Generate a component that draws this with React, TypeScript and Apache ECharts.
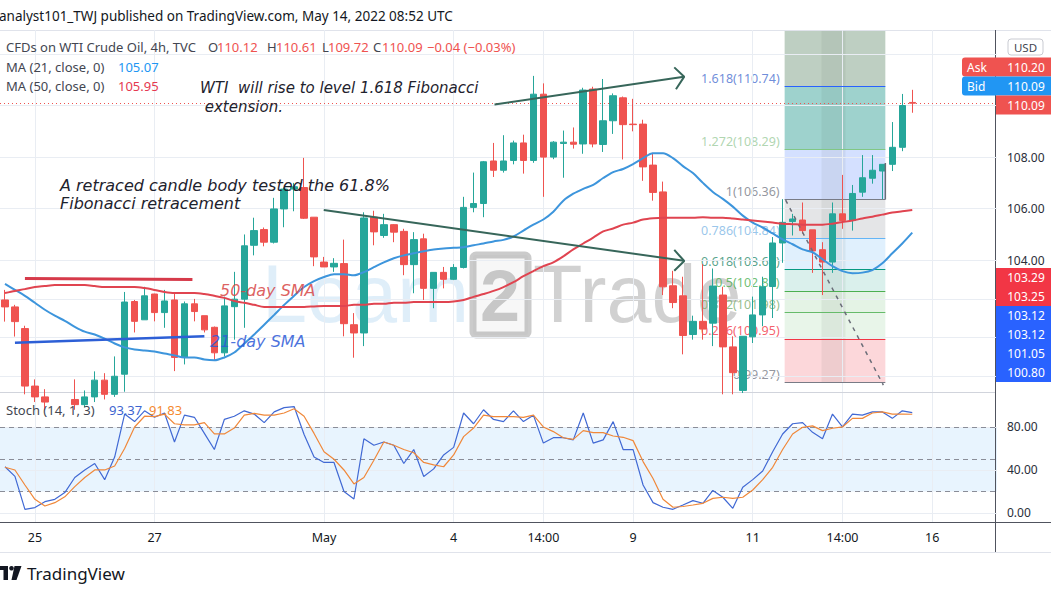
import React, { useEffect, useRef } from "react";
import * as echarts from "echarts";

// ---------- DATA ----------
// candles: [open, close, low, high] (4h WTI, index = bar number)
const candles: number[][] = [
  [102.46, 102.19, 101.62, 102.85], [102.19, 101.62, 101.04, 102.27], [101.35, 99.12, 98.8, 101.46], [99.12, 98.7, 98.5, 99.38],
  [98.7, 98.5, 98.2, 99.0], [98.5, 98.3, 98.0, 98.8], [98.3, 98.6, 98.1, 98.85], [98.6, 98.4, 98.2, 99.38],
  [98.4, 98.7, 98.3, 98.95], [98.7, 99.35, 98.5, 99.69], [99.35, 98.8, 98.6, 99.62], [98.8, 99.5, 98.7, 100.27],
  [99.58, 102.38, 98.9, 102.77], [102.4, 101.63, 101.2, 102.46], [101.69, 102.62, 101.69, 102.97], [102.69, 101.97, 101.63, 102.7],
  [101.97, 102.42, 101.38, 102.85], [102.46, 100.23, 99.7, 102.73], [100.23, 102.31, 99.96, 102.4], [102.31, 102.01, 101.63, 102.5],
  [101.85, 101.3, 101.2, 101.85], [101.4, 100.41, 100.1, 101.43], [100.41, 102.23, 100.27, 102.59], [102.2, 102.49, 100.92, 103.55],
  [102.49, 104.56, 101.38, 105.0], [104.58, 105.15, 104.19, 105.65], [105.19, 104.7, 104.54, 105.27], [104.7, 105.99, 104.65, 106.42],
  [105.99, 106.76, 105.28, 106.82], [106.76, 106.85, 105.9, 107.0], [106.82, 105.63, 105.6, 107.97], [105.67, 104.13, 103.77, 105.67],
  [103.93, 103.74, 103.74, 104.13], [103.74, 103.88, 103.55, 104.08], [103.87, 101.54, 101.05, 104.8], [101.5, 101.18, 100.22, 101.95],
  [101.18, 105.64, 100.67, 105.86], [105.67, 105.1, 104.58, 105.92], [104.96, 105.38, 104.87, 105.8], [105.38, 105.09, 104.7, 105.4],
  [105.12, 103.83, 103.42, 105.22], [103.83, 104.8, 102.72, 105.09], [104.83, 102.91, 102.46, 105.03], [102.91, 103.53, 102.14, 103.53],
  [103.53, 103.26, 102.91, 103.74], [103.26, 103.72, 103.23, 103.85], [103.72, 106.05, 103.68, 106.46], [106.05, 106.2, 105.86, 107.4],
  [106.2, 107.82, 105.67, 107.85], [107.85, 107.49, 107.23, 108.55], [107.49, 107.85, 107.4, 108.85], [107.87, 108.55, 107.72, 108.64],
  [108.55, 107.87, 107.36, 108.87], [107.87, 110.44, 107.78, 111.15], [110.44, 108.0, 106.46, 110.86], [108.0, 108.58, 107.92, 108.62],
  [108.53, 108.58, 107.2, 109.03], [108.58, 108.5, 108.33, 109.15], [108.51, 110.6, 108.13, 110.69], [110.64, 108.51, 108.38, 110.73],
  [108.49, 109.41, 108.2, 111.03], [109.41, 110.38, 108.9, 110.47], [110.3, 109.26, 107.91, 110.35], [109.28, 109.26, 109.0, 110.26],
  [109.28, 107.62, 107.08, 109.45], [107.69, 106.63, 106.31, 108.17], [106.65, 102.97, 102.65, 107.05], [103.01, 102.36, 102.14, 103.59],
  [102.62, 101.08, 100.35, 103.36], [101.12, 101.63, 100.92, 101.85], [101.63, 101.33, 100.92, 103.85], [101.56, 103.0, 100.67, 103.68],
  [102.65, 100.64, 98.8, 102.97], [100.64, 99.64, 98.8, 101.05], [98.95, 101.05, 98.85, 101.05], [101.03, 101.88, 100.79, 102.59],
  [101.88, 102.97, 101.44, 103.36], [102.98, 104.67, 101.76, 104.9], [104.67, 105.47, 103.9, 106.37], [105.5, 105.6, 104.96, 105.8],
  [105.56, 105.15, 105.03, 106.24], [105.18, 104.36, 103.51, 105.18], [104.41, 103.93, 102.65, 104.7], [103.93, 105.8, 103.51, 106.24],
  [105.8, 105.54, 105.22, 107.31], [105.54, 106.59, 105.15, 106.92], [106.64, 107.2, 106.46, 108.08], [107.18, 107.49, 106.97, 108.08],
  [107.46, 107.72, 106.37, 107.72], [107.72, 108.38, 107.46, 109.36], [108.38, 110.0, 108.23, 110.45], [110.12, 110.09, 109.72, 110.61],
];

const ma21 = [
  103.08, 102.85, 102.62, 102.35, 102.08, 101.85, 101.65, 101.42, 101.23, 101.12,
  100.96, 100.77, 100.62, 100.54, 100.5, 100.46, 100.38, 100.31, 100.23, 100.23,
  100.15, 100.12, 100.23, 100.42, 100.77, 101.12, 101.5, 101.88, 102.27, 102.62,
  102.96, 103.19, 103.35, 103.46, 103.46, 103.42, 103.54, 103.73, 103.92, 104.08,
  104.19, 104.27, 104.35, 104.42, 104.46, 104.48, 104.5, 104.58, 104.65, 104.73,
  104.79, 104.92, 105.15, 105.38, 105.58, 105.88, 106.31, 106.58, 106.77, 106.92,
  107.19, 107.42, 107.54, 107.73, 107.96, 108.15, 108.15, 107.96, 107.65, 107.38,
  107.0, 106.65, 106.38, 106.08, 105.73, 105.46, 105.27, 105.04, 104.81, 104.62,
  104.42, 104.31, 104.04, 103.77, 103.58, 103.5, 103.52, 103.62, 103.88, 104.27,
  104.65, 105.07,
];

const ma50 = [
  102.73, 102.81, 102.88, 102.96, 103.0, 103.04, 103.04, 103.04, 103.04, 103.0,
  102.96, 102.96, 102.96, 102.96, 102.92, 102.85, 102.77, 102.73, 102.73, 102.73,
  102.69, 102.62, 102.54, 102.42, 102.35, 102.27, 102.19, 102.19, 102.19, 102.19,
  102.19, 102.21, 102.23, 102.23, 102.23, 102.27, 102.27, 102.31, 102.31, 102.35,
  102.35, 102.38, 102.38, 102.38, 102.38, 102.4, 102.46, 102.58, 102.69, 102.81,
  102.96, 103.15, 103.38, 103.58, 103.77, 103.92, 104.15, 104.42, 104.65, 104.88,
  105.12, 105.23, 105.38, 105.46, 105.58, 105.63, 105.65, 105.65, 105.65, 105.65,
  105.67, 105.65, 105.65, 105.62, 105.58, 105.54, 105.5, 105.46, 105.42, 105.4,
  105.38, 105.38, 105.38, 105.42, 105.48, 105.54, 105.62, 105.69, 105.77, 105.85,
  105.9, 105.95,
];

const stochK = [
  43, 34, 3.4, 5, 10.5, 12.7, 19, 33, 40, 46,
  31, 52, 92, 85, 95, 89, 93, 66, 91, 89,
  74, 59, 87, 90, 95, 92, 84, 94, 98, 99,
  73, 52, 47, 47, 20, 13, 69, 63, 66, 63,
  46, 59, 34, 41, 54, 61, 93, 83, 96, 87,
  85, 95, 85, 91, 65, 70, 70, 68, 93, 65,
  68, 85, 59, 59, 26, 9.6, 5.3, 3.4, 7.4, 11.5,
  9, 21, 14.6, 4.3, 24, 31, 39, 57, 73.5, 83,
  84, 75, 69, 92, 80, 92, 91, 94, 94, 88,
  95, 93.37,
];

const stochD = [
  42.5, 40, 26, 12.7, 6.5, 9.6, 15, 24.5, 33, 40,
  40, 43.7, 60, 80, 90, 89.6, 92, 83, 82, 82,
  84, 73.5, 73.5, 79, 91, 92.7, 91, 91, 93, 97,
  90, 74, 57, 50, 40, 27, 33, 49, 66, 63,
  59, 56, 47, 44.7, 43, 54, 71, 79, 91, 89.6,
  89.6, 89.6, 89, 91, 80, 75.7, 70, 68.5, 76.6, 74.7,
  74.7, 71.6, 70.4, 67.3, 47.8, 32, 12.7, 5.3, 6, 7.4,
  9, 13.6, 14.6, 13.6, 14.6, 21.4, 31, 42.5, 59, 73.5,
  79.7, 81, 76.6, 78.8, 80, 88, 88, 93, 94, 92,
  92, 91.83,
];

const slotCount = 100;
const xTickIndex = [3, 15, 32, 45, 54, 63, 75, 84, 93];
const xTickText = ["25", "27", "May", "4", "14:00", "9", "11", "14:00", "16"];
const priceGridLines = [99.5, 101, 102.5, 104, 106, 108, 110, 112];
const priceAxisLabels = [104, 106, 108];
const stochAxisLabels = [0, 40, 80];
const stochGridLines = [0, 40, 80];
const stochDashed = [20, 50, 80];
const stochBand = [20, 80];

const fibRatios = ["0", "0.236", "0.382", "0.5", "0.618", "0.786", "1", "1.272", "1.618"];
const fibPrices = [99.27, 100.95, 101.98, 102.81, 103.65, 104.84, 106.36, 108.29, 110.74];
const fibStart = 78.2;
const fibEnd = 88.3;

// user drawings, [bar, price]
const redLine = [[2.0, 103.29], [18.8, 103.25]];
const blueLine = [[1.0, 100.8], [20.0, 101.05]];
const arrowUp = [[49.1, 110.04], [68.1, 111.12]];
const arrowUpHead = [[67.13, 111.48], [68.13, 111.12], [67.3, 110.63]];
const arrowDown = [[31.97, 105.95], [68.1, 103.98]];
const arrowDownHead = [[67.13, 104.4], [68.13, 103.97], [67.13, 103.59]];
const fibTrend = [[78.3, 106.33], [88.1, 99.16]];
const fibConnector = [[88.3, 106.36], [88.3, 107.77]];

const lastPrice = 110.09;
const askBid = [["Ask", "110.20"], ["Bid", "110.09"]];
const redTags = ["103.29", "103.25"];
const blueTags = ["103.12", "103.12", "101.05", "100.80"];

// ---------- STYLE ----------
const PRICE_MIN = 98.89;
const PRICE_MAX = 112.93;
const ST_MIN = -8.4;
const ST_MAX = 111.6;
const UP = "#26a69a";
const DOWN = "#ef5350";
const GRID = "#e9edf3";
const SANS = '"Noto Sans", "Open Sans", Arial, sans-serif';
const ITAL = '"DejaVu Sans", sans-serif';

const fibLineColors = ["#787b86", "#f23645", "#66bb6a", "#4caf50", "#089981", "#64b5f6", "#787b86", "#81c784", "#2962ff"];
const fibLabelColors = ["#787b86", "#f23645", "#7cae6e", "#4caf50", "#2e8b6e", "#7fb8e6", "#787b86", "#9ccb9c", "#4a6fd0"];
const fibBandColors = [
  "rgba(242,54,69,0.2)", "rgba(129,199,132,0.18)", "rgba(76,175,80,0.15)", "rgba(8,153,129,0.15)",
  "rgba(100,181,246,0.2)", "rgba(120,123,134,0.2)", "rgba(41,98,255,0.2)", "rgba(0,137,123,0.38)",
];

function txt(text: string, x: number, y: number, fill: string, font: string, align = "left", z = 60) {
  return {
    type: "text", z, silent: true,
    style: { text, x, y, fill, font, align, textAlign: align, verticalAlign: "middle", textVerticalAlign: "middle" },
  };
}

function tag(y: number, text: string, color: string) {
  return [
    { type: "rect", z: 70, silent: true, shape: { x: 996, y: y - 9.5, width: 55, height: 19 }, style: { fill: color } },
    txt(text, 1026, y, "#ffffff", `12px ${SANS}`, "center", 71),
  ];
}

function buildOption() {
  const cats = Array.from({ length: slotCount }, (_, i) => String(i));

  const fibAreas: any[] = [];
  for (let k = 0; k < fibPrices.length - 1; k++) {
    fibAreas.push([
      { xAxis: fibStart, yAxis: fibPrices[k], itemStyle: { color: fibBandColors[k] } },
      { xAxis: fibEnd, yAxis: fibPrices[k + 1] },
    ]);
  }
  fibAreas.push([
    { xAxis: fibStart, yAxis: fibPrices[fibPrices.length - 1], itemStyle: { color: "rgba(100,140,110,0.42)" } },
    { xAxis: fibEnd, yAxis: PRICE_MAX },
  ]);
  fibAreas.push([
    { xAxis: 81.9, yAxis: fibPrices[0], itemStyle: { color: "rgba(60,70,60,0.07)" } },
    { xAxis: 84.3, yAxis: PRICE_MAX },
  ]);

  const fibLines = fibPrices.map((p, k) => [
    { coord: [fibStart, p], lineStyle: { color: fibLineColors[k], width: 1, type: "solid" } },
    { coord: [fibEnd, p] },
  ]);

  const drawLine = (data: number[][], color: string, width: number, type: any = "solid") => ({
    type: "line", xAxisIndex: 1, yAxisIndex: 0, data, symbol: "none", silent: true, z: 6,
    lineStyle: { color, width, type }, animation: false,
  });

  const graphics: any[] = [];
  // header
  graphics.push(txt("analyst101_TWJ published on TradingView.com, May 14, 2022 08:52 UTC", -1, 16, "#131722", `13.5px ${SANS}`));
  graphics.push({ type: "line", z: 5, silent: true, shape: { x1: 0, y1: 30.5, x2: 1051, y2: 30.5 }, style: { stroke: "#e0e3eb", lineWidth: 1 } });
  graphics.push(txt("CFDs on WTI Crude Oil, 4h, TVC", 6, 47, "#434651", `13px ${SANS}`));
  const ohlc: [string, number, string][] = [["O", 208, "110.12"], ["H", 267, "110.61"], ["L", 322, "109.72"], ["C", 373, "110.09"]];
  ohlc.forEach(([l, x, v]) => {
    graphics.push(txt(l, x, 47, "#434651", `13px ${SANS}`));
    graphics.push(txt(v, x + (l === "L" ? 6 : 9), 47, "#ef5350", `13px ${SANS}`));
  });
  graphics.push(txt("\u22120.04 (\u22120.03%)", 427, 47, "#ef5350", `13px ${SANS}`));
  graphics.push(txt("MA (21, close, 0)", 6, 67, "#434651", `13px ${SANS}`));
  graphics.push(txt(ma21[ma21.length - 1].toFixed(2), 118, 67, "#2196f3", `13px ${SANS}`));
  graphics.push(txt("MA (50, close, 0)", 6, 86, "#434651", `13px ${SANS}`));
  graphics.push(txt(ma50[ma50.length - 1].toFixed(2), 118, 86, "#e53950", `13px ${SANS}`));
  graphics.push(txt("Stoch (14, 1, 3)", 6, 410, "#434651", `13px ${SANS}`));
  graphics.push(txt(stochK[stochK.length - 1].toFixed(2), 109, 410, "#3d64d0", `13px ${SANS}`));
  graphics.push(txt(stochD[stochD.length - 1].toFixed(2), 149, 410, "#f5892f", `13px ${SANS}`));

  // annotations
  const af = `italic 15px ${ITAL}`;
  const af2 = `italic 16px ${ITAL}`;
  graphics.push(txt("WTI  will rise to level 1.618 Fibonacci", 200, 88, "#1e222d", af));
  graphics.push(txt(" extension.", 200, 107, "#1e222d", af));
  graphics.push(txt("A retraced candle body tested the 61.8%", 60, 185, "#1e222d", af2));
  graphics.push(txt("Fibonacci retracement", 60, 203, "#1e222d", af2));
  graphics.push(txt("50-day SMA", 220, 290, "rgba(215,70,70,0.85)", `italic 16px ${ITAL}`, "left", 8));
  graphics.push(txt("21-day SMA", 210, 341, "rgba(45,90,215,0.85)", `italic 16px ${ITAL}`, "left", 8));

  // watermark
  graphics.push({ type: "text", z: 0, silent: true, style: { text: "Learn", x: 262, y: 294, fill: "rgba(150,200,235,0.3)", font: `81px "Liberation Sans", Arial`, verticalAlign: "middle", textVerticalAlign: "middle" } });
  graphics.push({ type: "rect", z: 0, silent: true, shape: { x: 473, y: 255, width: 55, height: 80, r: 3 }, style: { fill: "rgba(200,200,200,0.15)", stroke: "rgba(140,140,140,0.45)", lineWidth: 7 } });
  graphics.push({ type: "text", z: 0, silent: true, style: { text: "2", x: 500, y: 296, fill: "rgba(140,140,140,0.45)", font: `bold 72px "Liberation Sans", Arial`, align: "center", textAlign: "center", verticalAlign: "middle", textVerticalAlign: "middle" } });
  graphics.push({ type: "text", z: 0, silent: true, style: { text: "Trade", x: 533, y: 294, fill: "rgba(140,140,140,0.4)", font: `81px "Liberation Sans", Arial`, verticalAlign: "middle", textVerticalAlign: "middle" } });

  // frame lines
  graphics.push({ type: "line", z: 5, silent: true, shape: { x1: 0, y1: 392.5, x2: 996, y2: 392.5 }, style: { stroke: "#d1d4dc", lineWidth: 1 } });
  graphics.push({ type: "line", z: 5, silent: true, shape: { x1: 0, y1: 522.5, x2: 1051, y2: 522.5 }, style: { stroke: "#50535e", lineWidth: 1 } });
  graphics.push({ type: "line", z: 5, silent: true, shape: { x1: 0, y1: 552.5, x2: 1051, y2: 552.5 }, style: { stroke: "#e0e3eb", lineWidth: 1 } });
  graphics.push({ type: "line", z: 5, silent: true, shape: { x1: 995.5, y1: 30, x2: 995.5, y2: 552 }, style: { stroke: "#50535e", lineWidth: 1 } });

  // right-side tags
  graphics.push({ type: "rect", z: 70, silent: true, shape: { x: 1008, y: 39, width: 35, height: 16, r: 3 }, style: { fill: "#ffffff", stroke: "#c9cbd2", lineWidth: 1 } });
  graphics.push(txt("USD", 1025.5, 47, "#434651", `11.5px ${SANS}`, "center", 71));
  askBid.forEach(([name, val], k) => {
    const y = 67 + k * 19;
    const col = k === 0 ? "#ef5350" : "#2196f3";
    graphics.push({ type: "rect", z: 70, silent: true, shape: { x: 962, y: y - 9.5, width: 89, height: 19, r: [3, 0, 0, 3] }, style: { fill: col } });
    graphics.push(txt(name, 967, y, "#ffffff", `12px ${SANS}`, "left", 71));
    graphics.push(txt(val, 1026, y, "#ffffff", `12px ${SANS}`, "center", 71));
  });
  graphics.push(...tag(105, lastPrice.toFixed(2), "#ef5350"));
  redTags.forEach((v, k) => graphics.push(...tag(277.5 + k * 19, v, "#f23645")));
  blueTags.forEach((v, k) => graphics.push(...tag(315.5 + k * 19, v, "#2962ff")));

  // TradingView logo
  graphics.push({ type: "polygon", z: 60, silent: true, shape: { points: [[0, 566], [8, 566], [8, 580], [3.5, 580], [3.5, 570], [0, 570]] }, style: { fill: "#131722" } });
  graphics.push({ type: "circle", z: 60, silent: true, shape: { cx: 11.5, cy: 568.3, r: 2.3 }, style: { fill: "#131722" } });
  graphics.push({ type: "polygon", z: 60, silent: true, shape: { points: [[14.5, 566], [21.5, 566], [16.5, 580], [11.5, 580]] }, style: { fill: "#131722" } });
  graphics.push(txt("TradingView", 27, 573, "#131722", `17px ${SANS}`));

  const vLines = xTickIndex.map((i) => ({ xAxis: i }));

  return {
    animation: false,
    backgroundColor: "#ffffff",
    textStyle: { fontFamily: SANS },
    grid: [
      { left: -3, width: 1000, top: 30, height: 362 },
      { left: -3, width: 1000, top: 393, height: 129 },
    ],
    xAxis: [
      { type: "category", gridIndex: 0, data: cats, show: false, boundaryGap: true },
      { type: "value", gridIndex: 0, min: -0.5, max: slotCount - 0.5, show: false },
      {
        type: "category", gridIndex: 1, data: cats, boundaryGap: true,
        axisLine: { show: false }, axisTick: { show: false }, splitLine: { show: false },
        axisLabel: {
          interval: (index: number) => xTickIndex.includes(index),
          formatter: (_v: string, index: number) => {
            const k = xTickIndex.indexOf(index);
            return k >= 0 ? xTickText[k] : "";
          },
          color: "#131722", fontSize: 12.5, margin: 9,
        },
      },
      { type: "value", gridIndex: 1, min: -0.5, max: slotCount - 0.5, show: false },
    ],
    yAxis: [
      {
        type: "value", gridIndex: 0, min: PRICE_MIN, max: PRICE_MAX, position: "right", scale: true,
        axisLine: { show: false }, axisTick: { show: false }, splitLine: { show: false },
        axisLabel: { customValues: priceAxisLabels, formatter: (v: number) => v.toFixed(2), color: "#2a2e39", fontSize: 12, margin: 10 },
      },
      {
        type: "value", gridIndex: 1, min: ST_MIN, max: ST_MAX, position: "right",
        axisLine: { show: false }, axisTick: { show: false }, splitLine: { show: false },
        axisLabel: { customValues: stochAxisLabels, formatter: (v: number) => v.toFixed(2), color: "#2a2e39", fontSize: 12, margin: 10 },
      },
    ],
    graphic: { elements: graphics },
    series: [
      // price grid
      {
        type: "line", xAxisIndex: 1, yAxisIndex: 0, data: [], z: 0, silent: true,
        markLine: {
          silent: true, symbol: ["none", "none"], label: { show: false },
          lineStyle: { color: GRID, width: 1, type: "solid" },
          data: [...priceGridLines.map((p) => ({ yAxis: p })), ...vLines],
        },
      },
      // fib
      {
        type: "line", xAxisIndex: 1, yAxisIndex: 0, data: [], z: 1, silent: true,
        markArea: { silent: true, data: fibAreas },
        markLine: { silent: true, symbol: ["none", "none"], label: { show: false }, data: fibLines },
      },
      {
        type: "scatter", xAxisIndex: 1, yAxisIndex: 0, z: 3, silent: true, symbolSize: 2,
        itemStyle: { color: "rgba(0,0,0,0)" },
        label: { show: true, position: "left", distance: 4, offset: [0, -8], fontSize: 12.5, fontFamily: SANS },
        data: fibPrices.map((p, k) => ({
          value: [fibStart, p],
          label: {
            show: true,
            formatter: `${fibRatios[k]}(${p.toFixed(2)})`,
            color: fibLabelColors[k],
          },
        })),
      },
      drawLine(fibTrend, "#6a6d78", 1.5, [4, 5]),
      drawLine(fibConnector, "#6a6d78", 1.5),
      // candles
      {
        type: "candlestick", xAxisIndex: 0, yAxisIndex: 0, data: candles, barWidth: 7, clip: true, z: 5,
        itemStyle: { color: UP, color0: DOWN, borderColor: UP, borderColor0: DOWN, borderWidth: 1 },
        markLine: {
          silent: true, symbol: ["none", "none"], label: { show: false },
          lineStyle: { color: DOWN, width: 1, type: [1, 3] },
          data: [{ yAxis: lastPrice }],
        },
      },
      {
        type: "line", xAxisIndex: 0, yAxisIndex: 0, data: ma21, symbol: "none", smooth: 0.3, z: 6, silent: true,
        lineStyle: { color: "#3d95dc", width: 2 },
      },
      {
        type: "line", xAxisIndex: 0, yAxisIndex: 0, data: ma50, symbol: "none", smooth: 0.3, z: 6, silent: true,
        lineStyle: { color: "#e04450", width: 2 },
      },
      drawLine(redLine, "#d63a4a", 3),
      drawLine(blueLine, "#2d5fd6", 2.5),
      drawLine(arrowUp, "#37665a", 2),
      drawLine(arrowUpHead, "#37665a", 2),
      drawLine(arrowDown, "#37665a", 2),
      drawLine(arrowDownHead, "#37665a", 2),
      // stochastic pane
      {
        type: "line", xAxisIndex: 3, yAxisIndex: 1, data: [], z: 0, silent: true,
        markArea: { silent: true, itemStyle: { color: "rgba(33,150,243,0.1)" }, data: [[{ yAxis: stochBand[0] }, { yAxis: stochBand[1] }]] },
        markLine: {
          silent: true, symbol: ["none", "none"], label: { show: false },
          lineStyle: { color: GRID, width: 1, type: "solid" },
          data: [...stochGridLines.map((v) => ({ yAxis: v })), ...vLines],
        },
      },
      {
        type: "line", xAxisIndex: 3, yAxisIndex: 1, data: [], z: 1, silent: true,
        markLine: {
          silent: true, symbol: ["none", "none"], label: { show: false },
          lineStyle: { color: "#8a8d98", width: 1, type: [5, 4] },
          data: stochDashed.map((v) => ({ yAxis: v })),
        },
      },
      {
        type: "line", xAxisIndex: 2, yAxisIndex: 1, data: stochK, symbol: "none", z: 5, silent: true,
        lineStyle: { color: "#4169d4", width: 1.2 },
      },
      {
        type: "line", xAxisIndex: 2, yAxisIndex: 1, data: stochD, symbol: "none", z: 5, silent: true,
        lineStyle: { color: "#f0883a", width: 1.2 },
      },
    ],
  };
}

export default function App() {
  const ref = useRef<HTMLDivElement>(null);
  useEffect(() => {
    if (!ref.current) return;
    const chart = echarts.init(ref.current, null, { renderer: "svg" });
    chart.setOption(buildOption() as any);
    return () => chart.dispose();
  }, []);
  return (
    <div
      ref={ref}
      style={{ position: "absolute", left: 0, top: 0, width: 1051, height: 591, background: "#ffffff" }}
    />
  );
}
